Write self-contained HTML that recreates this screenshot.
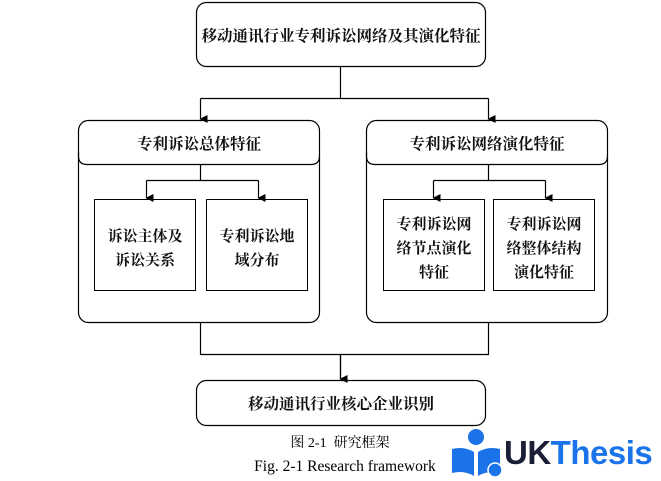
<!DOCTYPE html>
<html><head><meta charset="utf-8"><style>
body{margin:0;width:661px;height:481px;background:#fff;overflow:hidden;position:relative;font-family:"Liberation Serif","Noto Serif CJK SC",serif;}
.b{position:absolute;border:1px solid #000;box-sizing:border-box;display:flex;align-items:center;justify-content:center;text-align:center;font-weight:bold;color:#111;font-family:"Liberation Serif","Noto Serif CJK SC",serif;}
.i{padding-top:7px;line-height:24px}
</style></head><body>
<svg width="661" height="481" style="position:absolute;left:0;top:0">
<defs><marker id="a" markerWidth="8" markerHeight="8" refX="4" refY="7" orient="auto" markerUnits="userSpaceOnUse"><path d="M0,0 L8,0 L4,8 z" fill="#000"/></marker></defs>
<g stroke="#000" stroke-width="1.2" fill="none">
<path d="M340.5 67 V98.5 M200.5 98.5 H488.5"/>
<path d="M200.5 98.5 V119" marker-end="url(#a)"/>
<path d="M488.5 98.5 V119" marker-end="url(#a)"/>
<path d="M200.5 164 V180.5 M146.5 180.5 H258.5"/>
<path d="M146.5 180.5 V198" marker-end="url(#a)"/>
<path d="M258.5 180.5 V198" marker-end="url(#a)"/>
<path d="M488.5 164 V180.5 M433.5 180.5 H545.5"/>
<path d="M433.5 180.5 V198" marker-end="url(#a)"/>
<path d="M545.5 180.5 V198" marker-end="url(#a)"/>
<path d="M200.5 322 V354.5 H488.5 V322 M340.5 354.5 V379"/>
<path d="M340.5 354.5 V379" marker-end="url(#a)"/>
<rect x="196.5" y="2.5" width="289" height="64" rx="10"/>
<rect x="78.5" y="120.5" width="241" height="202" rx="10"/>
<path d="M78.5 152 V156 Q78.5 164.5 87 164.5 H311 Q319.5 164.5 319.5 156"/>
<rect x="366.5" y="120.5" width="241" height="202" rx="10"/>
<path d="M366.5 152 V156 Q366.5 164.5 375 164.5 H599 Q607.5 164.5 607.5 156"/>
<rect x="196.5" y="380.5" width="289" height="45" rx="10"/>
</g>
<g fill="#1a73e8">
<circle cx="476" cy="437" r="8"/>
<path d="M452 449 Q464 446 474 452 L474 476 Q464 470 452 473 z"/>
<path d="M478 452 Q488 446 500 449 L500 473 Q488 470 478 476 z"/>
<circle cx="495" cy="470" r="7" stroke="#fff" stroke-width="1.5"/>
</g>
</svg>
<div class="b" style="left:196px;top:2px;width:290px;height:65px;border:none;font-size:15.5px">移动通讯行业专利诉讼网络及其演化特征</div>
<div class="b" style="left:78px;top:120px;width:242px;height:45px;border:none;font-size:15.5px">专利诉讼总体特征</div>
<div class="b" style="left:366px;top:120px;width:242px;height:45px;border:none;font-size:15.5px">专利诉讼网络演化特征</div>
<div class="b i" style="left:94px;top:199px;width:102px;height:92px;font-size:15px">诉讼主体及<br>诉讼关系</div>
<div class="b i" style="left:206px;top:199px;width:102px;height:92px;font-size:15px">专利诉讼地<br>域分布</div>
<div class="b i" style="left:383px;top:199px;width:102px;height:92px;font-size:15px">专利诉讼网<br>络节点演化<br>特征</div>
<div class="b i" style="left:493px;top:199px;width:102px;height:92px;font-size:15px">专利诉讼网<br>络整体结构<br>演化特征</div>
<div class="b" style="left:196px;top:380px;width:290px;height:46px;border:none;font-size:15.5px">移动通讯行业核心企业识别</div>
<div style="position:absolute;left:240px;top:432px;width:200px;text-align:center;font-size:14px">图 2-1&nbsp; 研究框架</div>
<div style="position:absolute;left:235px;top:458px;width:220px;text-align:center;font-size:15.5px">Fig. 2-1 Research framework</div>
<div style="position:absolute;left:504px;top:433px;font-family:'Liberation Sans',sans-serif;font-weight:bold;font-size:33px;line-height:40px;letter-spacing:-0.5px"><span style="color:#1b1f35">UK</span><span style="color:#1a73e8">Thesis</span></div>
</body></html>
